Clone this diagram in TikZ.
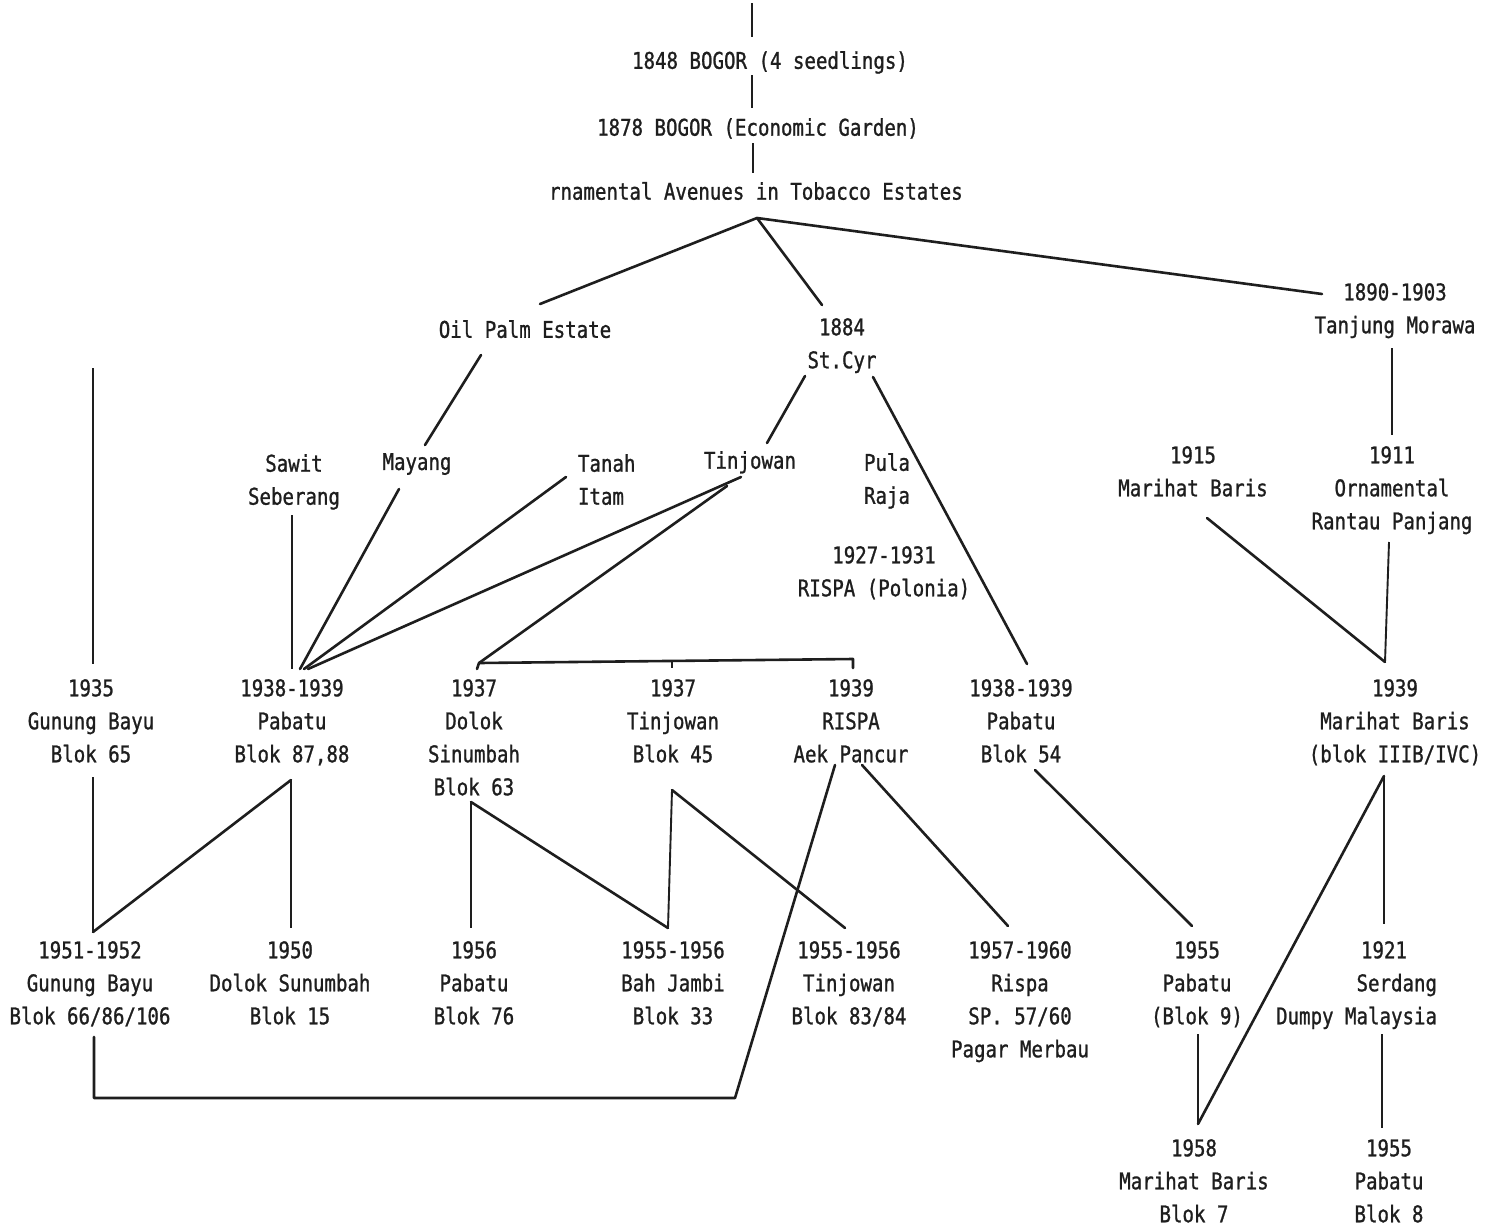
\documentclass[tikz,border=0pt]{standalone}
\usepackage{fontspec}
\newfontfamily\printfont[FakeStretch=0.83, FakeBold=1]{DejaVu Sans Mono}
\definecolor{ink}{HTML}{1E1E1E}

\begin{document}
\begin{tikzpicture}[x=1pt, y=-1pt,
  txt/.style={inner sep=0pt, outer sep=0pt, align=center, text=ink,
    font=\printfont\fontsize{23}{33}\selectfont},
  lbl/.style={txt, anchor=north, yshift=8.8pt},
  vlink/.style={draw=ink, line width=1.9pt},
  dlink/.style={draw=ink, line width=2.6pt, line cap=round, line join=round}]
\useasboundingbox[fill=white] (0,0) rectangle (1488,1226);

% ---------------- labels ----------------
\node[lbl] (bogor48) at (770,60) {1848 BOGOR (4 seedlings)};
\node[lbl] (bogor78) at (758,127) {1878 BOGOR (Economic Garden)};
\node[txt, anchor=west] (avenues) at (549,191) {rnamental Avenues in Tobacco Estates};

\node[lbl] (oilpalm) at (525,329) {Oil Palm Estate};
\node[lbl] (stcyr) at (842,327) {1884\\St.Cyr};
\node[lbl] (tanjung) at (1395,292) {1890-1903\\Tanjung Morawa};

\node[lbl] (sawit) at (294,463) {Sawit\\Seberang};
\node[lbl] (mayang) at (417,462) {Mayang};
\node[lbl, anchor=north west, align=left] (tanah) at (578,463) {Tanah\\Itam};
\node[lbl] (tinjowan) at (750,460) {Tinjowan};
\node[lbl] (pula) at (887,462) {Pula\\Raja};
\node[lbl] (rispa27) at (884,555) {1927-1931\\RISPA (Polonia)};
\node[lbl] (marihat15) at (1193,455) {1915\\Marihat Baris};
\node[lbl] (rantau) at (1392,455) {1911\\Ornamental\\Rantau Panjang};

\node[lbl] (gunung35) at (91,688) {1935\\Gunung Bayu\\Blok 65};
\node[lbl] (pabatu38) at (292,688) {1938-1939\\Pabatu\\Blok 87,88};
\node[lbl] (dolok37) at (474,688) {1937\\Dolok\\Sinumbah\\Blok 63};
\node[lbl] (tinjowan37) at (673,688) {1937\\Tinjowan\\Blok 45};
\node[lbl] (aek39) at (851,688) {1939\\RISPA\\Aek Pancur};
\node[lbl] (pabatu54) at (1021,688) {1938-1939\\Pabatu\\Blok 54};
\node[lbl] (marihat39) at (1395,688) {1939\\Marihat Baris\\(blok IIIB/IVC)};

\node[lbl] (gunung51) at (90,950) {1951-1952\\Gunung Bayu\\Blok 66/86/106};
\node[lbl] (dolok50) at (290,950) {1950\\Dolok Sunumbah\\Blok 15};
\node[lbl] (pabatu56) at (474,950) {1956\\Pabatu\\Blok 76};
\node[lbl] (bahjambi) at (673,950) {1955-1956\\Bah Jambi\\Blok 33};
\node[lbl] (tinjowan55) at (849,950) {1955-1956\\Tinjowan\\Blok 83/84};
\node[lbl] (rispa57) at (1020,950) {1957-1960\\Rispa\\SP. 57/60\\Pagar Merbau};
\node[lbl] (pabatu55) at (1197,950) {1955\\Pabatu\\(Blok 9)};
\node[lbl, anchor=north east, align=right] (serdang) at (1437,950) {1921\hspace*{30pt}\\Serdang\\Dumpy Malaysia};

\node[lbl] (marihat58) at (1194,1148) {1958\\Marihat Baris\\Blok 7};
\node[lbl] (pabatu8) at (1389,1148) {1955\\Pabatu\\Blok 8};

% ---------------- connection points ----------------
\coordinate (src-s) at (752,3);
\coordinate (bogor48-n) at (752,37);
\coordinate (bogor48-s) at (752,75);
\coordinate (bogor78-n) at (752,108);
\coordinate (bogor78-s) at (753,143);
\coordinate (avenues-n) at (753,173);
\coordinate (avenues-s) at (757,218);
\coordinate (oilpalm-n) at (540,304);
\coordinate (oilpalm-s) at (481,355);
\coordinate (stcyr-n) at (822,305);
\coordinate (stcyr-sw) at (805,376);
\coordinate (stcyr-se) at (873,377);
\coordinate (tanjung-w) at (1322,294);
\coordinate (tanjung-s) at (1392,348);
\coordinate (rantau-n) at (1392,435);
\coordinate (rantau-s) at (1389,542);
\coordinate (marihat15-s) at (1207,518);
\coordinate (marihat39-n) at (1385,662);
\coordinate (marihat39-s) at (1384,776);

\coordinate (mayang-n) at (425,445);
\coordinate (mayang-s) at (399,489);
\coordinate (sawit-s) at (292,515);
\coordinate (tanah-s) at (566,477);
\coordinate (tinjowan-n) at (767,443);
\coordinate (tinjowan-s) at (741,477);
\coordinate (tinjowan-s2) at (727,486);

\coordinate (gunung35-up) at (93,368);
\coordinate (gunung35-n) at (93,664);
\coordinate (gunung35-s) at (93,777);
\coordinate (pabatu38-n) at (292,669);
\coordinate (pabatu38-in) at (304,669);
\coordinate (pabatu38-s) at (291,780);
\coordinate (dolok37-hook) at (477,669);
\coordinate (dolok37-n) at (479,663);
\coordinate (dolok37-s) at (471,802);
\coordinate (tinjowan37-n) at (672,662);
\coordinate (tinjowan37-tick) at (672,668);
\coordinate (tinjowan37-s) at (672,790);
\coordinate (aek39-n) at (853,659);
\coordinate (aek39-tick) at (853,668);
\coordinate (aek39-sw) at (835,765);
\coordinate (aek39-se) at (862,765);
\coordinate (pabatu54-n) at (1027,664);
\coordinate (pabatu54-s) at (1035,770);

\coordinate (gunung51-n) at (93,932);
\coordinate (gunung51-s) at (94,1037);
\coordinate (loop-r) at (735,1098);
\coordinate (loop-l) at (94,1098);
\coordinate (dolok50-n) at (291,928);
\coordinate (pabatu56-n) at (471,928);
\coordinate (bahjambi-n) at (668,928);
\coordinate (tinjowan55-n) at (845,928);
\coordinate (rispa57-n) at (1008,926);
\coordinate (pabatu55-n) at (1192,926);
\coordinate (pabatu55-s) at (1198,1034);
\coordinate (serdang-n) at (1384,924);
\coordinate (serdang-s) at (1382,1034);
\coordinate (marihat58-n) at (1198,1124);
\coordinate (pabatu8-n) at (1382,1128);

% ---------------- connectors ----------------
% trunk
\draw[vlink] (src-s) -- (bogor48-n);
\draw[vlink] (bogor48-s) -- (bogor78-n);
\draw[vlink] (bogor78-s) -- (avenues-n);
\draw[dlink] (oilpalm-n) -- (avenues-s) -- (tanjung-w);
\draw[dlink] (avenues-s) -- (stcyr-n);

% estates
\draw[dlink] (oilpalm-s) -- (mayang-n);
\draw[dlink] (stcyr-sw) -- (tinjowan-n);
\draw[dlink] (stcyr-se) -- (pabatu54-n);
\draw[vlink] (tanjung-s) -- (rantau-n);
\draw[dlink] (marihat15-s) -- (marihat39-n);
\draw[vlink] (rantau-s) -- (marihat39-n);

% fan into Pabatu 1938-1939
\draw[vlink] (sawit-s) -- (pabatu38-n);
\draw[dlink] (mayang-s) -- ([xshift=-4pt]pabatu38-in);
\draw[dlink] (tanah-s) -- (pabatu38-in);
\draw[dlink] (tinjowan-s) -- ([xshift=4pt]pabatu38-in);
\draw[dlink] (tinjowan-s2) -- (dolok37-n);

% 1937 bar
\draw[dlink] (dolok37-hook) -- (dolok37-n) -- (aek39-n) -- (aek39-tick);
\draw[vlink] (tinjowan37-n) -- (tinjowan37-tick);

% second generation
\draw[vlink] (gunung35-up) -- (gunung35-n);
\draw[vlink] (gunung35-s) -- (gunung51-n);
\draw[dlink] (pabatu38-s) -- (gunung51-n);
\draw[vlink] (pabatu38-s) -- (dolok50-n);
\draw[vlink] (dolok37-s) -- (pabatu56-n);
\draw[dlink] (dolok37-s) -- (bahjambi-n);
\draw[vlink] (tinjowan37-s) -- (bahjambi-n);
\draw[dlink] (tinjowan37-s) -- (tinjowan55-n);
\draw[dlink] (aek39-sw) -- (loop-r) -- (loop-l) -- (gunung51-s);
\draw[dlink] (aek39-se) -- (rispa57-n);
\draw[dlink] (pabatu54-s) -- (pabatu55-n);
\draw[vlink] (marihat39-s) -- (serdang-n);
\draw[dlink] (marihat39-s) -- (marihat58-n);
\draw[vlink] (pabatu55-s) -- (marihat58-n);
\draw[vlink] (serdang-s) -- (pabatu8-n);
\end{tikzpicture}
\end{document}
